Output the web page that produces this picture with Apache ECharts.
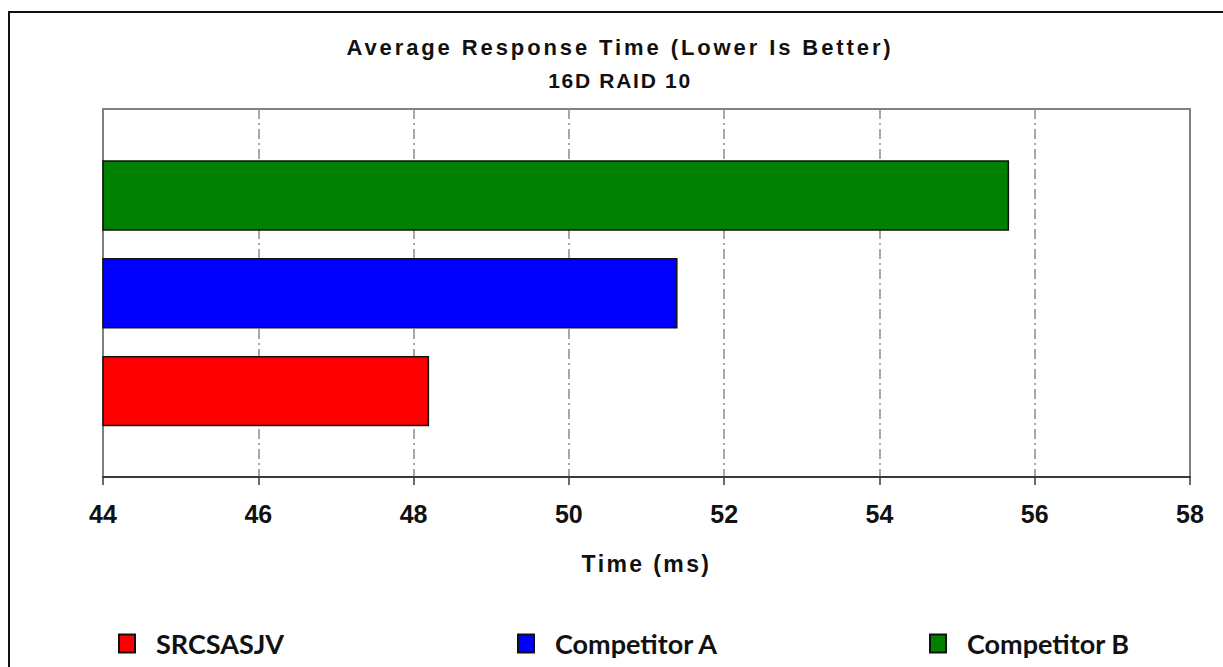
<!DOCTYPE html>
<html>
<head>
<meta charset="utf-8">
<title>Average Response Time</title>
<script src="https://cdn.jsdelivr.net/npm/echarts@6/dist/echarts.min.js"></script>
<style>
  html, body { margin: 0; padding: 0; background: #ffffff; }
  #chart { width: 1223px; height: 667px; }
  /* wide tracking for the heading and axis title */
  #chart text[style*="22px"] { letter-spacing: 2.9px; }
  #chart text[style*="21px"] { letter-spacing: 1.7px; }
  #chart text[style*="23px"] { letter-spacing: 2.4px; }
</style>
</head>
<body>
<div id="chart"></div>
<script>
// Average response time per controller (ms)
const categories = ['SRCSASJV', 'Competitor A', 'Competitor B'];
const responseTimes = [48.2, 51.4, 55.67];
const barColors = ['#ff0000', '#0000ff', '#008000'];

// Time axis range and step
const axisMin = 44;
const axisMax = 58;
const axisStep = 2;

const titleText = 'Average Response Time (Lower Is Better)';
const subtitleText = '16D RAID 10';
const axisTitle = 'Time (ms)';

// one series per controller so each gets its own legend entry
const series = categories.map(function (name, i) {
  return {
    name: name,
    type: 'bar',
    xAxisIndex: 1,
    yAxisIndex: 1,
    barWidth: '72%',
    barGap: '-100%',
    itemStyle: { color: barColors[i], borderColor: '#111111', borderWidth: 1.5 },
    data: categories.map(function (c, j) { return j === i ? responseTimes[i] : '-'; })
  };
});

const legendLefts = [118, 517, 929];
const legends = categories.map(function (name, i) {
  return {
    data: [name],
    left: legendLefts[i],
    top: 630,
    icon: 'rect',
    itemWidth: 16,
    itemHeight: 18,
    selectedMode: false,
    padding: 0,
    textStyle: {
      fontFamily: 'Lato',
      fontWeight: 'bold',
      fontSize: 27,
      color: '#111111',
      padding: [0, 0, 0, 16]
    }
  };
});

const chart = echarts.init(document.getElementById('chart'), null, { renderer: 'svg' });
chart.setOption({
  animation: false,
  backgroundColor: '#ffffff',
  title: [
    {
      text: titleText,
      left: 620,
      top: 36,
      textAlign: 'center',
      padding: 0,
      textStyle: { fontFamily: 'Liberation Sans', fontWeight: 'bold', fontSize: 22, color: '#111111' }
    },
    {
      text: subtitleText,
      left: 620,
      top: 70,
      textAlign: 'center',
      padding: 0,
      textStyle: { fontFamily: 'Liberation Sans', fontWeight: 'bold', fontSize: 21, color: '#111111' }
    }
  ],
  legend: legends,
  grid: [
    // plot frame with the time scale
    { left: 103, right: 33, top: 109, bottom: 190, show: true, borderColor: '#808080', borderWidth: 2, backgroundColor: 'transparent' },
    // band where the bars sit
    { left: 103, right: 33, top: 146.6, bottom: 227 }
  ],
  xAxis: [
    {
      gridIndex: 0,
      type: 'value',
      min: axisMin,
      max: axisMax,
      interval: axisStep,
      name: axisTitle,
      nameLocation: 'middle',
      nameGap: 75,
      nameTextStyle: { fontFamily: 'Liberation Sans', fontWeight: 'bold', fontSize: 23, color: '#111111' },
      axisLine: { show: true, lineStyle: { color: '#3a3a3a', width: 2 } },
      axisTick: { show: true, inside: false, length: 8, lineStyle: { color: '#3a3a3a', width: 1.5 } },
      axisLabel: { margin: 24, fontFamily: 'Liberation Sans', fontWeight: 'bold', fontSize: 25, color: '#111111' },
      splitLine: {
        show: true,
        showMinLine: false,
        showMaxLine: false,
        lineStyle: { color: '#8c8c8c', width: 1.5, type: [10, 4, 2, 4] }
      }
    },
    {
      gridIndex: 1,
      type: 'value',
      min: axisMin,
      max: axisMax,
      interval: axisStep,
      show: false
    }
  ],
  yAxis: [
    { gridIndex: 0, type: 'value', show: false, splitLine: { show: false } },
    { gridIndex: 1, type: 'category', data: categories, show: false }
  ],
  graphic: [
    {
      type: 'polyline',
      silent: true,
      shape: { points: [[9, 667], [9, 12], [1223, 12]] },
      style: { stroke: '#111111', lineWidth: 2, fill: null }
    }
  ],
  series: series
});
</script>
</body>
</html>
